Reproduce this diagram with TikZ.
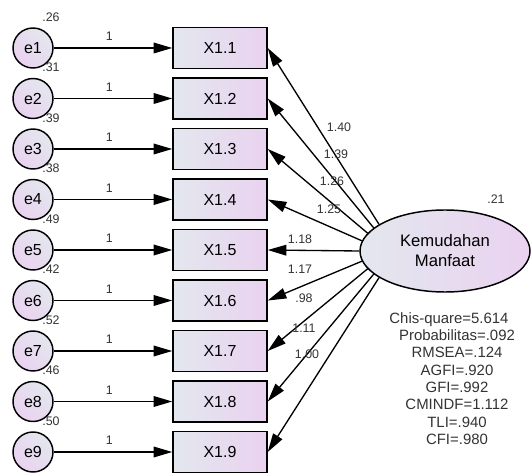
\documentclass[tikz,border=0pt]{standalone}
\usepackage{fontspec}
\setmainfont{Liberation Sans}
\usetikzlibrary{shapes.geometric,arrows.meta}
\definecolor{lgray}{HTML}{E3E7EE}
\definecolor{lviolet}{HTML}{EAD2F0}
\definecolor{lbl}{HTML}{333333}

\begin{document}
\begin{tikzpicture}[x=.75pt,y=-.75pt,
    err/.style={circle,draw,line width=1.1pt,minimum size=30pt,inner sep=0pt,top color=lgray,bottom color=lviolet,shading angle=-45,font=\fontsize{12}{14}\selectfont},
    ind/.style={rectangle,draw,line width=1.1pt,minimum width=70.5pt,minimum height=30.75pt,left color=lgray,right color=lviolet,font=\fontsize{12}{14}\selectfont},
    lat/.style={ellipse,draw,line width=1.1pt,minimum width=127.5pt,minimum height=61.5pt,inner sep=0pt,left color=lgray,right color=lviolet,align=center,font=\fontsize{12.5}{15}\selectfont},
    est/.style={text=lbl,font=\fontsize{9.3}{11}\selectfont,inner sep=0pt},
    arr/.style={line width=1pt,-{Triangle[length=14pt,width=8pt]}}]
    \useasboundingbox (0,0) rectangle (531,473);

    \node[lat] (kem) at (445,251) {Kemudahan\\Manfaat};
    \node[est] (kemvar) at (496,199) {.21};

    \foreach \i/\ve/\lo/\ang/\lx/\ly in {1/.26/1.40/158/339/127,2/.31/1.39/162/336/154,3/.39/1.26/167/332/181,4/.38/1.25/173/329/209,5/.49/1.18/180/300/239,6/.42/1.17/187/300/269,7/.52/.98/193/304/298,8/.46/1.11/198/304/328,9/.50/1.00/202/307/354} {
        \pgfmathsetmacro\yy{48+(\i-1)*50.5}
        \node[err] (e\i) at (33,\yy) {e\i};
        \node[ind] (x\i) at (220,\yy) {X1.\i};
        \node[est] (v\i) at (51,\yy-31) {\ve};
        \draw[arr] (e\i) -- node[est,pos=.47,above=5pt] {1} (x\i);
        \draw[arr] (kem.\ang) -- (x\i.east);
        \node[est] (l\i) at (\lx,\ly) {\lo};}

    \node[align=center,text=lbl,font=\fontsize{11.2}{13}\selectfont] (fit) at (457,378.5) {Chis-quare=5.614\hspace*{12pt}\\Probabilitas=.092\\RMSEA=.124\\AGFI=.920\\GFI=.992\\CMINDF=1.112\\TLI=.940\\CFI=.980};

\end{tikzpicture}
\end{document}
